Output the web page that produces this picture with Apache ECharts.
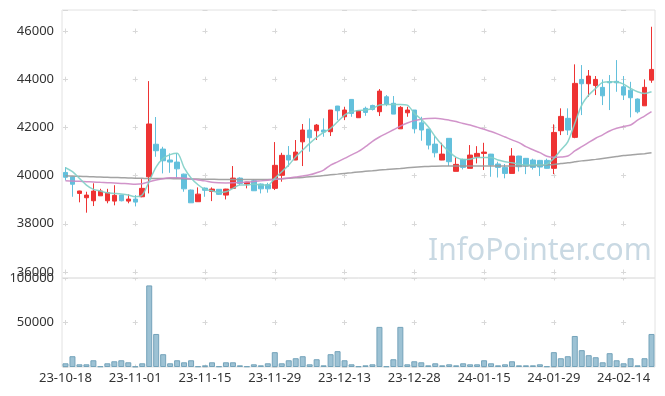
<!DOCTYPE html>
<html><head><meta charset="utf-8">
<script src="https://cdn.jsdelivr.net/npm/echarts@6/dist/echarts.min.js"></script>
<style>html,body{margin:0;padding:0;background:#fff}#c{width:665px;height:396px}</style>
</head><body><div id="c"></div>
<script>
const dates = ['23-10-18','23-10-19','23-10-20','23-10-23','23-10-24','23-10-25','23-10-26','23-10-27','23-10-30','23-10-31',
'23-11-01','23-11-02','23-11-03','23-11-06','23-11-07','23-11-08','23-11-09','23-11-10','23-11-13','23-11-14',
'23-11-15','23-11-16','23-11-17','23-11-20','23-11-21','23-11-22','23-11-23','23-11-24','23-11-27','23-11-28',
'23-11-29','23-11-30','23-12-01','23-12-04','23-12-05','23-12-06','23-12-07','23-12-08','23-12-11','23-12-12',
'23-12-13','23-12-14','23-12-15','23-12-18','23-12-19','23-12-20','23-12-21','23-12-22','23-12-26','23-12-27',
'23-12-28','24-01-02','24-01-03','24-01-04','24-01-05','24-01-08','24-01-09','24-01-10','24-01-11','24-01-12',
'24-01-15','24-01-16','24-01-17','24-01-18','24-01-19','24-01-22','24-01-23','24-01-24','24-01-25','24-01-26',
'24-01-29','24-01-30','24-01-31','24-02-01','24-02-02','24-02-05','24-02-06','24-02-07','24-02-08','24-02-13',
'24-02-14','24-02-15','24-02-16','24-02-19','24-02-20'];

const openP = [40130,39950,39260,39080,38955,39160,38955,38940,39190,38940,
39025,39120,39950,41300,41100,40645,40560,40060,39400,38915,
39480,39345,39430,39190,39470,39895,39650,39785,39650,39620,
39470,40010,40840,40645,41400,41890,41860,41890,41820,42885,
42440,43160,42400,42790,42910,42650,43270,43000,41940,42605,
42720,42190,41930,41305,40645,41545,40175,40670,40300,40780,
40920,40890,40480,40340,40090,40810,40715,40645,40630,40630,
40300,41860,42375,41585,43990,43810,43740,43660,43900,43910,
43685,43545,43175,42895,43960];
const closeP = [39930,39640,39360,39190,39357,39360,39290,39180,38955,39025,
38900,39470,42140,41030,40615,40560,40280,39450,38870,39230,
39390,39440,39220,39440,39895,39675,39730,39370,39450,39450,
40425,40840,40645,40975,41890,41570,42095,41805,42720,42690,
42720,42580,42690,42620,42745,43505,42965,42550,42830,42720,
41940,41890,41265,40945,40890,40575,40465,40340,40850,40920,
40975,40435,40340,40090,40810,40365,40395,40340,40355,40300,
41790,42455,41890,43825,43810,44130,43990,43310,43850,43850,
43340,43230,42645,43660,44405];
const lowP = [39800,39120,38890,38460,38735,39160,38850,38765,38930,38850,
38720,39100,39260,40780,40090,40115,39885,39330,38870,38910,
39120,38940,39200,39010,39470,39600,39470,39360,39260,39290,
39400,39745,40365,40640,40395,40990,41475,41610,41640,42300,
42300,42440,42390,42480,42700,42470,42880,42550,41940,42440,
41750,41445,41085,40755,40640,40395,40175,40255,40300,40505,
40230,39950,39920,39885,40090,40170,40060,40250,39980,40290,
40060,41680,41680,41550,42510,43270,43340,42925,42718,43477,
43135,42415,42580,42890,43850];
const highP = [40350,39960,39370,39330,39680,39450,39450,39600,39200,39220,
39190,39855,43920,42430,41195,40920,40920,40080,39420,39510,
39510,39510,39440,39450,40395,39930,39740,39830,39670,39700,
41390,40945,41225,41475,42140,42375,42140,42375,42720,42890,
42855,43165,42700,42860,42940,43590,43340,43300,42880,42855,
42720,42440,41930,41640,41360,41545,40755,40700,41265,41220,
41360,40900,40575,40480,41140,40820,40730,40700,40650,40700,
42125,42790,42790,44615,44585,44380,44130,43990,44170,44792,
44130,43890,43200,43990,46175];

const volume = [4170,12120,3030,3030,7580,760,4170,6440,7580,5300,
760,4170,91670,37120,14390,4170,7580,5300,7580,760,
1890,5300,760,5300,5300,1890,760,3030,1890,4170,
16670,4170,7580,9850,12120,3030,8710,1890,14390,17800,
7580,3030,760,1890,3030,45080,760,8710,45080,3030,
6440,5300,1890,4170,1890,3030,1890,4170,3030,3030,
7580,4170,1890,3030,6440,1890,1890,1890,3030,760,
16670,9850,12120,34850,18940,13260,10990,5300,15530,7580,
4170,9850,1890,9850,37120];

const ma5 = [40325,40160,39884,39606,39427,39357,39286,39260,39232,39190,
39120,39190,39760,40365,40713,40870,40930,40330,39900,39620,
39427,39370,39300,39328,39469,39606,39606,39647,39606,39606,
39884,40160,40436,40780,41058,41336,41585,41792,41958,42232,
42510,42647,42700,42720,42780,42925,42953,42953,42953,42925,
42580,42332,42025,41610,41265,40988,40755,40672,40680,40755,
40755,40755,40643,40573,40530,40477,40436,40436,40436,40477,
40713,41058,41402,42165,42925,43340,43618,43867,43892,43880,
43796,43618,43477,43410,43480];
const ma20 = [39780,39770,39760,39745,39735,39720,39705,39690,39676,39660,
39640,39660,39742,39813,39870,39905,39910,39890,39860,39820,
39780,39720,39700,39695,39700,39710,39730,39750,39780,39810,
39840,39870,39900,39940,39980,40030,40120,40228,40436,40570,
40713,40860,41000,41200,41420,41600,41751,41900,42050,42180,
42280,42340,42370,42375,42350,42300,42240,42160,42095,42010,
41920,41830,41720,41600,41480,41370,41200,41070,40950,40800,
40760,40770,40810,41020,41200,41380,41550,41690,41850,41960,
42040,42100,42300,42470,42650];
const ma60 = [39990,39980,39970,39960,39950,39940,39930,39920,39910,39900,
39890,39885,39880,39880,39880,39875,39870,39865,39860,39855,
39850,39845,39840,39840,39840,39840,39840,39840,39840,39842,
39850,39865,39885,39905,39925,39950,39975,40000,40030,40060,
40091,40120,40150,40175,40200,40228,40250,40275,40295,40320,
40345,40365,40380,40390,40395,40395,40395,40395,40395,40395,
40395,40395,40395,40395,40395,40395,40400,40410,40420,40440,
40460,40500,40530,40570,40610,40640,40672,40710,40750,40790,
40830,40850,40880,40910,40946];

const priceMin = 35750, priceMax = 46870;
const volMax = 100000, volInterval = 50000;

const candleData = dates.map((d, i) => [openP[i], closeP[i], lowP[i], highP[i]]);

const FONT = 'Noto Sans';
const labelStyle = { color: '#333', fontSize: 13, fontFamily: FONT };
const plusColor = '#d8d8d8';

const chart = echarts.init(document.getElementById('c'), null, { renderer: 'canvas' });
chart.setOption({
  animation: false,
  backgroundColor: '#fff',
  graphic: [{
    type: 'text', left: 428, top: 236, silent: true, z: 0,
    style: { text: 'InfoPointer.com', fill: '#c9d9e3', font: '30px "Noto Sans"' }
  }],
  grid: [
    { left: 62, top: 10, width: 593, height: 268, show: true, borderColor: '#e2e2e2', borderWidth: 1 },
    { left: 62, top: 278, width: 593, height: 89, show: true, borderColor: '#e2e2e2', borderWidth: 1 }
  ],
  xAxis: [
    { type: 'category', gridIndex: 0, data: dates, boundaryGap: true,
      axisLine: { show: false }, axisTick: { show: false }, axisLabel: { show: false },
      splitLine: { show: true, interval: 9, alignWithLabel: true,
        lineStyle: { color: plusColor, width: 1, type: [5, 43.2], dashOffset: 29.7 } } },
    { type: 'category', gridIndex: 1, data: dates, boundaryGap: true,
      axisLine: { show: false }, axisTick: { show: false },
      axisLabel: Object.assign({ interval: 9, margin: 5 }, labelStyle),
      splitLine: { show: true, interval: 9, alignWithLabel: true,
        lineStyle: { color: plusColor, width: 1, type: [5, 39.5], dashOffset: 2.5 } } }
  ],
  yAxis: [
    { type: 'value', gridIndex: 0, min: priceMin, max: priceMax, scale: true,
      axisLine: { show: false }, axisTick: { show: false },
      axisLabel: Object.assign({ margin: 8, showMinLabel: false, showMaxLabel: false, formatter: v => String(v) }, labelStyle),
      splitLine: { show: true, lineStyle: { color: plusColor, width: 1, type: [5, 64.76], dashOffset: 68.76 } } },
    { type: 'value', gridIndex: 1, min: 0, max: volMax, interval: volInterval,
      axisLine: { show: false }, axisTick: { show: false },
      axisLabel: Object.assign({ margin: 8, showMinLabel: false, formatter: v => String(v) }, labelStyle),
      splitLine: { show: true, lineStyle: { color: plusColor, width: 1, type: [5, 64.76], dashOffset: 68.76 } } }
  ],
  series: [
    { name: 'candle', type: 'candlestick', xAxisIndex: 0, yAxisIndex: 0, data: candleData, barWidth: 5, z: 3,
      itemStyle: { color: '#ee3333', color0: '#63c0dc', borderColor: '#ee3333', borderColor0: '#63c0dc', borderWidth: 1 } },
    { name: 'MA60', type: 'line', xAxisIndex: 0, yAxisIndex: 0, data: ma60, smooth: 0.3, showSymbol: false, z: 4,
      lineStyle: { color: '#999', width: 1.5, opacity: 0.9 } },
    { name: 'MA20', type: 'line', xAxisIndex: 0, yAxisIndex: 0, data: ma20, smooth: 0.3, showSymbol: false, z: 4,
      lineStyle: { color: '#cc88c4', width: 1.5, opacity: 0.9 } },
    { name: 'MA5', type: 'line', xAxisIndex: 0, yAxisIndex: 0, data: ma5, smooth: 0.3, showSymbol: false, z: 4,
      lineStyle: { color: '#7fcfc6', width: 1.5, opacity: 0.9 } },
    { name: 'volume', type: 'bar', xAxisIndex: 1, yAxisIndex: 1, data: volume, barWidth: 6,
      itemStyle: { color: '#9dc2d4', borderColor: '#74a3ba', borderWidth: 1 } }
  ]
});
</script></body></html>
